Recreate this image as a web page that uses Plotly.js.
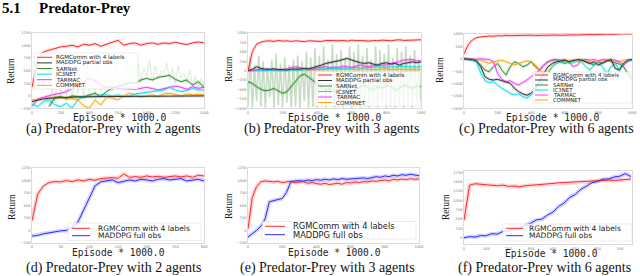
<!DOCTYPE html>
<html><head><meta charset="utf-8">
<script src="https://cdn.plot.ly/plotly-3.0.1.min.js"></script>
<style>html,body{margin:0;padding:0;background:#fff}#plot{width:640px;height:276px}</style>
</head><body><div id="plot"></div>
<script>
// ---------------- DATA ----------------
const NAMES_TOP = ['RGMComm with 4 labels','MADDPG partial obs','SARNet','IC3NET','TARMAC','COMMNET'];
const NAMES_BOTTOM = ['RGMComm with 4 labels','MADDPG full obs'];
const CAPTIONS = ['(a) Predator-Prey with 2 agents','(b) Predator-Prey with 3 agents','(c) Predator-Prey with 6 agents',
                  '(d) Predator-Prey with 2 agents','(e) Predator-Prey with 3 agents','(f) Predator-Prey with 6 agents'];
const X_TITLE = 'Episode * 1000.0';
const Y_TITLE = 'Return';

// tick values
const XT_A = [0,250,500,750,1000,1250,1500];
const YT_A = [-250,0,250,500,750,1000,1250];
const XT_B = [0,200,400,600,800,1000];
const YT_B = [-1000,-750,-500,-250,0,250,500,750,1000];
const XT_C = [0,200,400,600,800,1000];
const YT_C = [-2000,-1500,-1000,-500,0,500,1000];
const XT_D = [0,50,100,150,200,250,300];
const YT_D = [-250,0,250,500,750,1000,1250];
const XT_E = [0,200,400,600,800,1000];
const YT_E = [-250,0,250,500,750,1000,1250];
const XT_F = [0,100,200,300,400,500,600,700];
const YT_F = [0,250,500,750,1000,1250,1500,1750];

// x grids
const X_A = [0,50,100,150,200,250,300,350,400,450,500,550,600,650,700,750,800,850,900,950,1000,1050,1100,1150,1200,1250,1300,1350,1400,1450,1500];
const X_A_RAW = [150,175,200,225,250,275,300,325,350,375,400,425,450,475,500,525,550,575,600,625,650,675,700,725,750,775,800,825,850,875,900,925,950,975,1000,1025,1050,1075,1100,1125,1150,1175,1200,1225,1250,1275,1300,1325,1350,1375,1400,1425,1450,1475,1500];
const X_1000 = [0,25,50,75,100,125,150,175,200,225,250,275,300,325,350,375,400,425,450,475,500,525,550,575,600,625,650,675,700,725,750,775,800,825,850,875,900,925,950,975,1000];
const X_1000_RAW = [0,12.5,25,37.5,50,62.5,75,87.5,100,112.5,125,137.5,150,162.5,175,187.5,200,212.5,225,237.5,250,262.5,275,287.5,300,312.5,325,337.5,350,362.5,375,387.5,400,412.5,425,437.5,450,462.5,475,487.5,500,512.5,525,537.5,550,562.5,575,587.5,600,612.5,625,637.5,650,662.5,675,687.5,700,712.5,725,737.5,750,762.5,775,787.5,800,812.5,825,837.5,850,862.5,875,887.5,900,912.5,925,937.5,950,962.5,975,987.5,1000];
const X_D = [0,10,20,30,40,50,60,70,80,90,100,110,120,130,140,150,160,170,180,190,200,210,220,230,240,250,260,270,280,290,300];
const X_F = [0,25,50,75,100,125,150,175,200,225,250,275,300,325,350,375,400,425,450,475,500,525,550,575,600,625,650,675,700,725,750];

// (a) 2 agents, partial obs
const A_RGM = [171,711,875,908,941,974,987,1007,974,1026,1007,1040,987,1026,1053,1105,1007,1040,1053,1007,1040,1053,1026,1053,1040,1066,1040,1020,1053,1073,1053];
const A_MADDPG = [-112,-79,-59,-46,-39,-26,-26,-20,-20,-20,-13,-13,-13,-13,-13,-13,-7,-7,-7,-7,-7,-7,-7,0,0,0,0,0,0,0,0];
const A_SARNET = [null,null,null,-211,-26,-13,-46,0,-13,-26,20,53,-13,86,151,184,217,263,250,316,349,316,368,395,408,329,283,316,217,283,171];
const A_SARNET_RAW = [-200,150,-100,500,-50,700,0,300,-80,600,50,350,-40,800,100,250,0,650,80,400,150,550,100,700,200,450,250,600,300,500,350,650,250,550,400,700,300,600,350,500,450,650,300,550,250,600,350,450,250,500,200,400,150,350,200];
const A_IC3NET = [-160,-211,-112,-79,-178,-211,-145,-243,-79,-13,0,-13,20,20,0,20,-13,0,39,53,66,86,105,118,171,118,86,105,151,118,118];
const A_TARMAC = [-211,-66,-26,7,33,53,86,151,217,283,349,303,217,171,171,151,145,138,132,151,171,145,118,145,171,197,171,132,184,151,171];
const A_COMMNET = [-79,-66,-46,-33,-46,-26,-66,-53,-79,-197,-243,-79,-178,-26,-46,-79,0,53,20,-26,0,20,-13,39,53,20,0,39,20,33,20];

// (b) 3 agents, partial obs
const B_RGM = [0,503,706,759,785,794,776,803,785,794,776,794,785,767,794,785,794,776,803,794,785,794,803,785,811,794,803,794,785,803,794,811,803,794,811,820,803,811,820,811,820];
const B_MADDPG = [0,35,106,62,44,35,53,26,35,18,44,35,44,62,53,79,106,150,194,212,238,265,300,326,282,238,212,194,212,176,150,194,212,176,194,150,194,212,238,212,238];
const B_SARNET = [-291,-335,-423,-494,-529,-512,-467,-529,-600,-556,-423,-291,-141,-88,-176,-265,-335,-423,-512,-467,-556,-512,-423,-467,-529,-494,-423,-379,-467,-512,-423,-467,-379,-423,-512,-467,-379,-423,-467,-406,-423];
const B_SARNET_RAW = [-950,350,-980,150,-800,400,-950,250,-980,100,-700,300,-980,450,-900,200,-980,350,-850,150,-980,300,-950,400,-980,250,-800,500,-980,350,-950,600,-980,400,-900,650,-980,300,-850,700,-980,450,-950,550,-980,350,-900,650,-980,500,-800,700,-980,400,-950,600,-980,300,-900,650,-980,550,-850,450,-980,700,-950,350,-980,600,-900,500,-980,650,-950,400,-980,550,-900,300,-800];
const B_IC3NET = [0,0,9,0,9,18,9,0,18,9,9,18,9,18,26,35,26,35,44,53,62,53,71,62,79,88,71,79,97,88,106,97,88,106,97,115,106,97,88,97,106];
const B_TARMAC = [0,18,18,35,18,44,18,35,18,62,88,106,71,53,35,44,79,97,106,79,97,88,123,106,88,123,150,123,106,141,150,141,150,194,212,238,282,300,300,265,247];
const B_COMMNET = [0,9,0,9,0,9,18,9,0,9,18,9,18,26,18,26,35,44,53,44,35,44,53,44,35,44,53,44,35,26,35,44,35,26,35,44,35,26,35,26,35];

// (c) 6 agents, partial obs
const C_RGM = [200,560,760,853,880,906,920,913,933,920,946,933,940,946,933,946,953,940,946,960,946,953,960,946,960,953,966,960,973,966,980,973,986,980,993,986,1000,993,1006,1000,1006];
const C_MADDPG = [0,-13,-27,-80,-320,-720,-826,-853,-826,-880,-920,-986,-1186,-1320,-1413,-1466,-1386,-1186,-920,-586,-320,-187,-120,-80,-53,-120,-80,-27,-53,-120,-187,-120,-253,-160,-80,-27,-386,-453,-187,-53,-27];
const C_SARNET = [0,-27,-53,-120,-253,-453,-520,-320,-187,-453,-653,-320,-120,-187,-320,-253,-120,-320,-453,-253,-120,-53,-27,-120,-187,-120,-53,-80,-27,-120,-187,-253,-120,-187,-53,-120,-160,-213,-320,-586,-826];
const C_IC3NET = [0,-27,-53,-120,-586,-880,-960,-920,-1053,-1186,-1280,-1386,-1453,-1413,-1520,-1586,-1453,-1320,-1120,-853,-586,-320,-187,-120,-80,-187,-160,-80,-120,-320,-453,-253,-160,-320,-586,-320,-187,-453,-160,-80,-53];
const C_TARMAC = [0,-13,0,-13,0,-27,-27,-120,-586,-826,-920,-880,-986,-1053,-960,-853,-720,-586,-453,-253,-120,-53,-27,-53,-27,-120,-320,-253,-53,-27,-53,-27,-80,-27,-53,-27,-53,-120,-253,-120,-27];
const C_COMMNET = [0,0,-13,-27,-53,-120,-187,-120,-80,-53,-120,-187,-253,-187,-120,-80,-120,-253,-453,-586,-520,-320,-120,-80,-120,-53,-80,-53,-27,-53,-120,-187,-120,-53,-27,-53,-80,-120,-53,-27,-53];

// (d) 2 agents, full obs
const D_RGM = [198,727,892,958,978,972,998,978,1011,991,1025,1005,1038,1051,1058,1044,1130,1064,1077,1064,1091,1071,1084,1064,1077,1091,1071,1091,1064,1104,1091];
const D_MADDPG = [-112,-99,-66,-46,-20,-7,0,66,165,397,661,892,972,991,1011,958,991,1011,991,1025,1011,991,1025,1038,1011,1025,1038,991,1011,1025,991];

// (e) 3 agents, full obs
const E_RGM = [33,661,879,972,991,978,972,985,958,972,985,958,972,978,945,958,939,925,945,919,932,945,925,958,952,972,958,978,972,991,985,998,1011,991,1025,1011,1031,1018,1038,1025,1031];
const E_MADDPG = [-132,-66,0,86,231,575,595,615,641,760,972,991,998,985,1011,998,1018,1005,1025,1011,1031,1018,1038,1025,1031,1044,1038,1051,1038,1058,1077,1064,1091,1077,1104,1091,1117,1104,1124,1110,1097];

// (f) 6 agents, full obs
const F_RGM = [468,1413,1448,1430,1422,1404,1395,1413,1377,1386,1369,1395,1404,1413,1430,1448,1457,1475,1483,1492,1501,1510,1519,1510,1528,1536,1545,1536,1554,1563,1572];
const F_MADDPG = [0,30,20,60,55,110,100,170,185,250,240,330,390,480,500,610,690,840,930,1080,1160,1300,1380,1480,1510,1570,1575,1630,1650,1720,1640];

// ---------------- STYLE / LAYOUT ----------------
const COL = {rgm:'#ff2a2a', mad:'#333333', sar:'#2f8f2f', ic3:'#00e0ee', tar:'#ff33ff', com:'#ffa500', full:'#2a2aff'};
const W = 640, H = 276;
const px = v => v / W, py = v => 1 - v / H;

const traces = [];
function line(xs, ys, color, k, width, opacity){
  const s = k === 0 ? '' : String(k + 1);
  traces.push({x: xs, y: ys, type: 'scatter', mode: 'lines', xaxis: 'x' + s, yaxis: 'y' + s,
    line: {color: color, width: width}, opacity: opacity, hoverinfo: 'skip', showlegend: false, connectgaps: false});
}
function series(xs, ys, color, k){ line(xs, ys, color, k, 3, 0.18); }
function main(xs, ys, color, k){ line(xs, ys, color, k, 1, 1); }

// (a)
line(X_A_RAW, A_SARNET_RAW, '#a8d6a2', 0, 0.8, 0.55);
[[A_COMMNET,COL.com],[A_TARMAC,COL.tar],[A_IC3NET,COL.ic3],[A_SARNET,COL.sar],[A_MADDPG,COL.mad],[A_RGM,COL.rgm]].forEach(p=>series(X_A,p[0],p[1],0));
[[A_COMMNET,COL.com],[A_TARMAC,COL.tar],[A_IC3NET,COL.ic3],[A_SARNET,COL.sar],[A_MADDPG,COL.mad],[A_RGM,COL.rgm]].forEach(p=>main(X_A,p[0],p[1],0));
// (b)
line(X_1000_RAW, B_SARNET_RAW, 'rgb(115,170,105)', 1, 1.6, 0.4);
[[B_SARNET,COL.sar],[B_COMMNET,COL.com],[B_IC3NET,COL.ic3],[B_TARMAC,COL.tar],[B_MADDPG,COL.mad],[B_RGM,COL.rgm]].forEach(p=>series(X_1000,p[0],p[1],1));
[[B_SARNET,COL.sar],[B_COMMNET,COL.com],[B_IC3NET,COL.ic3],[B_TARMAC,COL.tar],[B_MADDPG,COL.mad],[B_RGM,COL.rgm]].forEach(p=>main(X_1000,p[0],p[1],1));
// (c)
[[C_SARNET,COL.sar],[C_COMMNET,COL.com],[C_TARMAC,COL.tar],[C_IC3NET,COL.ic3],[C_MADDPG,COL.mad],[C_RGM,COL.rgm]].forEach(p=>series(X_1000,p[0],p[1],2));
[[C_SARNET,COL.sar],[C_COMMNET,COL.com],[C_TARMAC,COL.tar],[C_IC3NET,COL.ic3],[C_MADDPG,COL.mad],[C_RGM,COL.rgm]].forEach(p=>main(X_1000,p[0],p[1],2));
// (d)(e)(f)
[[X_D,D_RGM,D_MADDPG,3],[X_1000,E_RGM,E_MADDPG,4],[X_F,F_RGM,F_MADDPG,5]].forEach(p=>{
  line(p[0], p[1], COL.rgm, p[3], 4, 0.2);
  line(p[0], p[2], COL.full, p[3], 4, 0.2);
  main(p[0], p[1], COL.rgm, p[3]);
  main(p[0], p[2], COL.full, p[3]);
});

const panels = [
  {x:[32,204], y:[33,108.5], xr:[0,1500], xt:XT_A, yr:[-250,1250], yt:YT_A},
  {x:[248,421], y:[33,108.5], xr:[0,1000], xt:XT_B, yr:[-1000,1000], yt:YT_B},
  {x:[464,632], y:[34,108.5], xr:[0,1000], xt:XT_C, yr:[-2000,1000], yt:YT_C},
  {x:[32,204], y:[168,243], xr:[0,300], xt:XT_D, yr:[-250,1250], yt:YT_D},
  {x:[248,419], y:[168,243], xr:[0,1000], xt:XT_E, yr:[-250,1250], yt:YT_E},
  {x:[464,632], y:[171,244.5], xr:[0,755], xt:XT_F, yr:[-180,1790], yt:YT_F}
];

const layout = {width: W, height: H, margin: {l:0,r:0,t:0,b:0}, paper_bgcolor:'#fff', plot_bgcolor:'#fff',
  showlegend:false, annotations: [], shapes: []};
const tickfont = {family:'DejaVu Sans', size:3.6, color:'#777'};
panels.forEach((p,k)=>{
  const s = k === 0 ? '' : String(k + 1);
  layout['xaxis'+s] = {domain:[px(p.x[0]), px(p.x[1])], anchor:'y'+s, range:p.xr, tickmode:'array', tickvals:p.xt,
    showline:true, mirror:true, linecolor:'#d2d2d2', linewidth:0.8, showgrid:false, zeroline:false, ticks:'', tickfont:tickfont,
    ticklabelstandoff:-1.5, fixedrange:true};
  layout['yaxis'+s] = {domain:[py(p.y[1]), py(p.y[0])], anchor:'x'+s, range:p.yr, tickmode:'array', tickvals:p.yt,
    showline:true, mirror:true, linecolor:'#d2d2d2', linewidth:0.8, showgrid:false, zeroline:false, ticks:'', tickfont:tickfont, fixedrange:true};
});

function ann(text, x, y, opts){
  layout.annotations.push(Object.assign({text:text, x:px(x), y:py(y), xref:'paper', yref:'paper', showarrow:false,
    xanchor:'center', yanchor:'middle', borderpad:0, font:{family:'DejaVu Sans', size:8, color:'#111'}}, opts||{}));
}
// header
ann('5.1', 1, 8, {xanchor:'left', font:{family:'Liberation Serif', size:15, color:'#000', weight:'bold'}});
ann('Predator-Prey', 38, 8, {xanchor:'left', font:{family:'Liberation Serif', size:15, color:'#000', weight:'bold'}});
// captions
[[113,129],[331,129],[546,129],[113,267.6],[327,267.6],[544,267.6]].forEach((c,i)=>
  ann(CAPTIONS[i], c[0], c[1], {font:{family:'Liberation Serif', size:14, color:'#111'}}));
// x titles
[[119,117.4],[334,117.4],[552,117.4]].forEach(c=>
  ann(X_TITLE, c[0], c[1], {font:{family:'DejaVu Sans Mono', size:9.7, color:'#222'}}));
[[118,252.6],[334.5,252.6],[551,253.2]].forEach(c=>
  ann(X_TITLE, c[0], c[1], {font:{family:'DejaVu Sans Mono', size:9.6, color:'#222'}}));
// y titles
[[11,71],[229,69],[440,70],[12,207],[229,206],[446,207]].forEach(c=>
  ann(Y_TITLE, c[0], c[1], {textangle:-90, font:{family:'Liberation Sans Narrow', size:9.5, color:'#222'}}));

// legends
function legend(box, sx, tx, rows, names, colors, fs){
  layout.shapes.push({type:'rect', xref:'paper', yref:'paper', x0:px(box[0]), x1:px(box[2]), y0:py(box[3]), y1:py(box[1]),
    fillcolor:'rgba(255,255,255,0.8)', line:{color:'#d8d8d8', width:0.5}, layer:'above'});
  rows.forEach((r,i)=>{
    layout.shapes.push({type:'line', xref:'paper', yref:'paper', x0:px(sx[0]), x1:px(sx[1]), y0:py(r), y1:py(r),
      line:{color:colors[i], width:1}, layer:'above'});
    ann(names[i], tx, r, {xanchor:'left', font:{family:'DejaVu Sans', size:fs, color:'#222'}});
  });
}
const TOPCOLS = [COL.rgm, COL.mad, COL.sar, COL.ic3, COL.tar, COL.com];
const BOTCOLS = [COL.rgm, COL.full];
legend([34,53,138,89], [37,52], 55, [57.3,62.9,68.5,74.1,79.7,85.3], NAMES_TOP, TOPCOLS, 5.6);
legend([315,71.5,420,106], [318,332], 335, [75,80.5,86,91.5,97,102.5], NAMES_TOP, TOPCOLS, 5.6);
legend([533,72,632,103], [535,548], 552, [75,80,85,90,95,100], NAMES_TOP, TOPCOLS, 5.4);
legend([68,223,201,240.5], [72,90], 97, [228.3,235.7], NAMES_BOTTOM, BOTCOLS, 7.5);
legend([262,221.5,416,239], [265,285], 292, [226.3,234.7], NAMES_BOTTOM, BOTCOLS, 8.3);
legend([503,224,632,241], [506,523], 528, [228.3,235.7], NAMES_BOTTOM, BOTCOLS, 7.5);

Plotly.newPlot('plot', traces, layout, {staticPlot:true, displayModeBar:false});
</script></body></html>
